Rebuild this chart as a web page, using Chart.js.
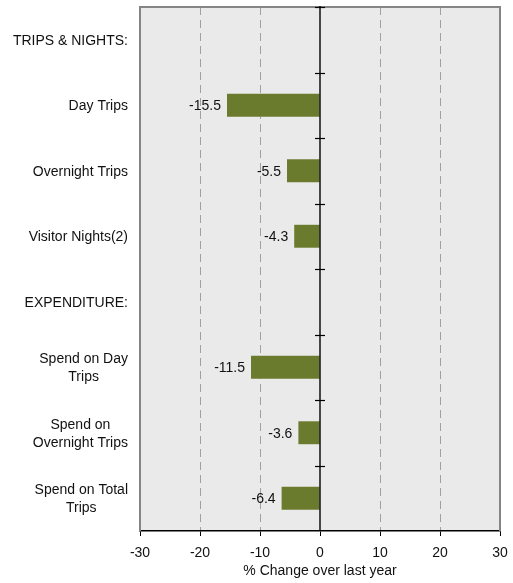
<!DOCTYPE html>
<html><head><meta charset="utf-8">
<script src="https://cdn.jsdelivr.net/npm/chart.js@4/dist/chart.umd.min.js"></script>
<style>html,body{margin:0;padding:0;background:#fff}canvas{display:block}</style>
</head><body>
<canvas id="c" width="513" height="583"></canvas>
<script>
const categories = [["TRIPS & NIGHTS:"], ["Day Trips"], ["Overnight Trips"], ["Visitor Nights(2)"], ["EXPENDITURE:"], ["Spend on Day", "Trips"], ["Spend on", "Overnight Trips"], ["Spend on Total", "Trips"]];
const changeValues = [null, -15.5, -5.5, -4.3, null, -11.5, -3.6, -6.4];
const xTickValues = [-30, -20, -10, 0, 10, 20, 30];
const dashedGridValues = [-20, -10, 10, 20];
const axisTitle = "% Change over last year";

const FONT = "'Liberation Sans', Arial, Helvetica, sans-serif";
const TEXT = '#111';

const customDraw = {
  id: 'customDraw',
  beforeDraw(chart) {
    const {ctx, chartArea: a, scales: {x}} = chart;
    ctx.save();
    ctx.fillStyle = '#EAEAEA';
    ctx.fillRect(a.left, a.top, a.right - a.left, a.bottom - a.top);
    ctx.strokeStyle = '#A0A0A0';
    ctx.lineWidth = 1;
    ctx.setLineDash([8, 5]);
    dashedGridValues.forEach(v => {
      const px = Math.round(x.getPixelForValue(v)) + 0.5;
      ctx.beginPath(); ctx.moveTo(px, a.top); ctx.lineTo(px, a.bottom); ctx.stroke();
    });
    ctx.restore();
  },
  afterDatasetsDraw(chart) {
    const {ctx, chartArea: a, scales: {x, y}} = chart;
    ctx.save();
    ctx.strokeStyle = '#858585';
    ctx.lineWidth = 2;
    ctx.beginPath();
    ctx.moveTo(a.left, a.bottom); ctx.lineTo(a.left, a.top); ctx.lineTo(a.right, a.top); ctx.lineTo(a.right, a.bottom);
    ctx.stroke();
    const x0 = x.getPixelForValue(0);
    ctx.strokeStyle = '#000';
    ctx.lineWidth = 1.4;
    ctx.beginPath(); ctx.moveTo(x0, a.top - 1); ctx.lineTo(x0, a.bottom); ctx.stroke();
    ctx.lineWidth = 1.2;
    for (let i = 0; i < categories.length; i++) {
      const yy = Math.round(y.getPixelForValue(i - 0.5)) + 0.5;
      ctx.beginPath(); ctx.moveTo(x0 - 5, yy); ctx.lineTo(x0 + 5, yy); ctx.stroke();
    }
    ctx.font = '14px ' + FONT;
    ctx.fillStyle = TEXT;
    ctx.textBaseline = 'middle';
    ctx.textAlign = 'right';
    const meta = chart.getDatasetMeta(0);
    meta.data.forEach((bar, i) => {
      const v = changeValues[i];
      if (v === null) return;
      ctx.fillText(v.toFixed(1), bar.x - 6, bar.y + 1);
    });
    const rightX = 128;
    const lh = 18;
    categories.forEach((lines, i) => {
      const cy = y.getPixelForValue(i);
      const widths = lines.map(l => ctx.measureText(l).width);
      const maxW = Math.max(...widths);
      const cx = rightX - maxW / 2;
      ctx.textAlign = 'center';
      lines.forEach((l, j) => {
        const ly = cy + (j - (lines.length - 1) / 2) * lh + 1;
        ctx.fillText(l, cx, ly);
      });
    });
    ctx.restore();
  }
};

new Chart(document.getElementById('c'), {
  type: 'bar',
  data: {
    labels: categories,
    datasets: [{
      data: changeValues,
      backgroundColor: '#6B7B2E',
      borderWidth: 0,
      barPercentage: 0.35,
      categoryPercentage: 1
    }]
  },
  options: {
    indexAxis: 'y',
    responsive: false,
    animation: false,
    devicePixelRatio: 1,
    layout: {padding: {top: 7, right: 13, left: 0, bottom: 0}},
    plugins: {legend: {display: false}, tooltip: {enabled: false}},
    scales: {
      x: {
        type: 'linear', min: -30, max: 30,
        afterBuildTicks: s => { s.ticks = xTickValues.map(v => ({value: v})); },
        grid: {display: true, drawOnChartArea: false, drawTicks: true, tickLength: 5, tickColor: '#000', tickWidth: 1},
        border: {display: true, color: '#000', width: 1.5},
        ticks: {font: {family: FONT, size: 14}, color: TEXT, padding: 9, maxRotation: 0, autoSkip: false},
        title: {display: true, text: axisTitle, font: {family: FONT, size: 14}, color: TEXT, padding: {top: 2, bottom: 3}},
        afterFit: s => { s.height = 52; s.paddingLeft = 0; s.paddingRight = 0; }
      },
      y: {
        type: 'category',
        grid: {display: false},
        border: {display: false},
        ticks: {display: false},
        afterFit: s => { s.width = 140; }
      }
    }
  },
  plugins: [customDraw]
});
</script>
</body></html>
